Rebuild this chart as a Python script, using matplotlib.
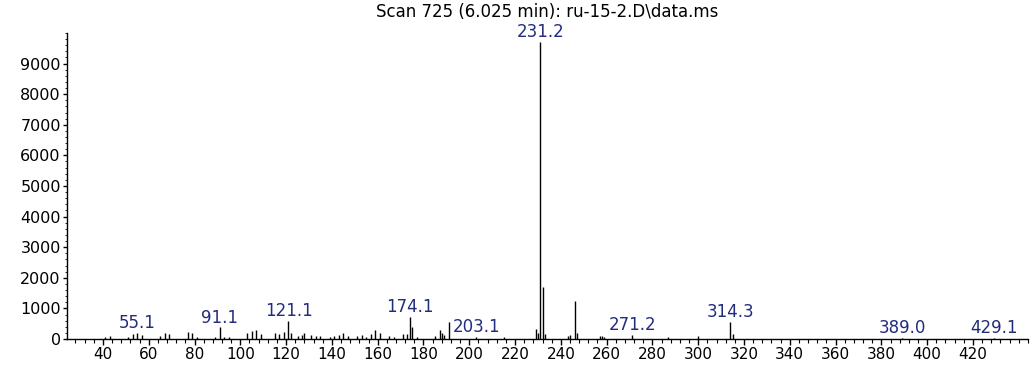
import matplotlib
matplotlib.use("Agg")
import matplotlib.pyplot as plt
from matplotlib.ticker import MultipleLocator

# m/z values and abundances
mz = [41, 43, 51, 53, 55, 57, 65, 67, 69, 77, 79, 81, 89, 91, 93, 95,
      103, 105, 107, 109, 115, 117, 119, 121, 122, 125, 127, 128, 131, 133,
      135, 139, 141, 143, 145, 147, 151, 153, 155, 157, 159, 161, 165, 167,
      171, 173, 174, 175, 177, 185, 187, 188, 189, 191, 203, 215,
      229, 230, 231, 232, 233, 243, 244, 246, 247, 257, 258, 259,
      271, 287, 300, 314, 315, 389, 429]
abundance = [60, 90, 80, 170, 200, 120, 90, 200, 150, 230, 180, 80, 80, 380, 80, 70,
             180, 260, 300, 150, 190, 150, 220, 600, 200, 90, 130, 180, 120, 90,
             100, 70, 90, 120, 200, 110, 90, 120, 80, 150, 280, 200, 100, 80,
             150, 150, 720, 400, 80, 110, 300, 180, 120, 570, 70, 60,
             320, 200, 9700, 1700, 160, 90, 130, 1250, 180, 90, 110, 80,
             130, 50, 110, 570, 160, 30, 30]

# labelled peaks
label_mz = [55.1, 91.1, 121.1, 174.1, 203.1, 231.2, 271.2, 314.3, 389.0, 429.1]
label_y = [200, 380, 600, 720, 70, 9700, 130, 570, 30, 30]

title = "Scan 725 (6.025 min): ru-15-2.D\\data.ms"


def spectrum():
    fig = plt.figure(figsize=(10.31, 3.67), dpi=100)
    ax = fig.add_axes([0.065, 0.0763, 0.932, 0.834])

    ax.vlines(mz, 0, abundance, color="black", lw=1.0)

    for m, h in zip(label_mz, label_y):
        ax.annotate("%.1f" % m, xy=(m, h), xytext=(0, 0.5),
                    textcoords="offset points", ha="center", va="bottom",
                    fontsize=12, color="#222c7c")

    ax.set_xlim(24.3, 444)
    ax.set_ylim(0, 10000)

    for side in ["top", "right"]:
        ax.spines[side].set_visible(False)
    ax.spines["left"].set_linewidth(1.0)
    ax.spines["bottom"].set_linewidth(1.0)

    ax.xaxis.set_minor_locator(MultipleLocator(4))
    ax.yaxis.set_minor_locator(MultipleLocator(200))
    ax.set_xticks(range(40, 421, 20))
    ax.set_yticks(range(0, 9001, 1000))

    ax.tick_params(axis="x", which="major", length=4.5, width=1, pad=1.5, labelsize=11)
    ax.tick_params(axis="x", which="minor", length=2.8, width=0.8)
    ax.tick_params(axis="y", which="major", length=3, width=1, pad=1.5, labelsize=11.5)
    ax.tick_params(axis="y", which="minor", length=1.5, width=0.6)

    fig.text(0.531, 0.967, title, ha="center", va="center", fontsize=12)

    fig.savefig("out.png", dpi=100)


if __name__ == "__main__":
    spectrum()
